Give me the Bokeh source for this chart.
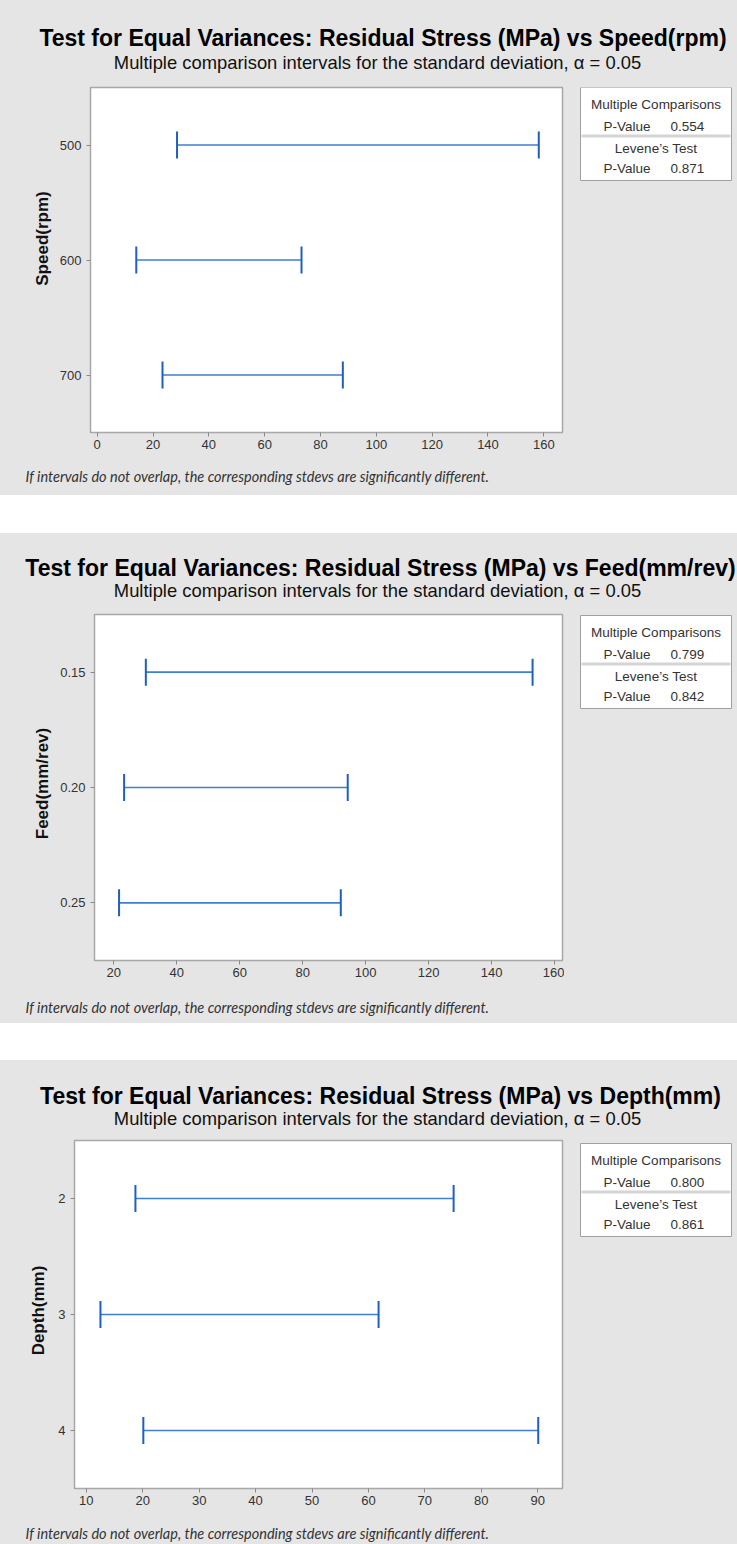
import numpy as np
from bokeh.plotting import figure
from bokeh.models import Range1d, FactorRange, FixedTicker, ColumnDataSource, Spacer
from bokeh.layouts import row
from bokeh.core.properties import value
from bokeh.embed import file_html
from bokeh.resources import INLINE

# ---------------- data ----------------
speed_levels = ["500", "600", "700"]
speed_lower = [28.6, 14.0, 23.4]
speed_upper = [158.2, 73.2, 88.0]
speed_ticks = [0, 20, 40, 60, 80, 100, 120, 140, 160]
speed_mc_p = "0.554"
speed_lev_p = "0.871"

feed_levels = ["0.15", "0.20", "0.25"]
feed_lower = [30.2, 23.3, 21.7]
feed_upper = [153.0, 94.3, 92.1]
feed_ticks = [20, 40, 60, 80, 100, 120, 140, 160]
feed_mc_p = "0.799"
feed_lev_p = "0.842"

depth_levels = ["2", "3", "4"]
depth_lower = [18.7, 12.5, 20.1]
depth_upper = [75.1, 61.8, 90.1]
depth_ticks = [10, 20, 30, 40, 50, 60, 70, 80, 90]
depth_mc_p = "0.800"
depth_lev_p = "0.861"

response = "Residual Stress (MPa)"
subtitle = "Multiple comparison intervals for the standard deviation, \u03b1 = 0.05"
footnote = "If intervals do not overlap, the corresponding stdevs are significantly different."

GRAY = "#e5e5e5"
LINE = "#3f7fcf"
CAP = "#1f5fbf"
TXT = "#333333"
W = 737
LAB_W = 52       # strip holding the y-axis title
MAIN_X1 = 564    # right edge of the main plot canvas (frame right edge at x = 562)
AX_H = 28        # room for the x axis under the frame
BG = {"background-color": GRAY}


def blank(width, height, top=0, bottom=0):
    f = figure(width=width, height=height, x_range=Range1d(0, width),
               y_range=Range1d(height - top - bottom, 0),
               x_axis_type=None, y_axis_type=None,
               output_backend="svg", toolbar_location=None, tools="",
               min_border_left=0, min_border_right=0,
               min_border_top=top, min_border_bottom=bottom,
               border_fill_color=GRAY, background_fill_color=GRAY,
               outline_line_color=None, styles=BG)
    f.xgrid.visible = False
    f.ygrid.visible = False
    return f


def txt(f, x, y, text, size, align="center", style="normal", font="Liberation Sans",
        color="#000000", angle=0.0):
    f.text(x=[x], y=[y], text=[text], text_align=align, text_baseline="middle",
           text_font=value(font), text_font_size=value(size), text_font_style=value(style),
           text_color=color, angle=angle)


def panel(var, levels, lower, upper, ticks, xr, mc_p, lev_p,
          head_h, L, FH, foot_h, title_xy, sub_y, leg_off, foot_y, lab_xy):
    # ---- header: title and subtitle
    head = blank(W, head_h)
    txt(head, title_xy[0], title_xy[1], "Test for Equal Variances: %s vs %s" % (response, var),
        "23px", style="bold", color="#000000")
    txt(head, 377, sub_y, subtitle, "18.4px", color="#111111")

    body_h = 2 + FH + AX_H

    # ---- y-axis title strip
    lab = blank(LAB_W, body_h, top=2, bottom=AX_H)
    txt(lab, lab_xy[0], lab_xy[1], var, "17px", style="bold", color="#111111", angle=np.pi / 2)

    # ---- main plot
    p = figure(width=MAIN_X1 - LAB_W, height=body_h, x_range=Range1d(*xr),
               y_range=FactorRange(factors=levels[::-1]),
               output_backend="svg", toolbar_location=None, tools="",
               min_border_left=L - LAB_W, min_border_right=MAIN_X1 - 562,
               min_border_top=2, min_border_bottom=AX_H,
               border_fill_color=GRAY, background_fill_color="white",
               outline_line_color="#a8a8a8", outline_line_width=1.5, styles=BG)
    p.xgrid.visible = False
    p.ygrid.visible = False
    src = ColumnDataSource(dict(lv=levels, lo=lower, hi=upper))
    p.segment(x0="lo", y0="lv", x1="hi", y1="lv", source=src, line_color=LINE, line_width=1.6)
    p.scatter(x="lo", y="lv", source=src, marker="dash", angle=np.pi / 2, size=27,
              line_color=CAP, line_width=2)
    p.scatter(x="hi", y="lv", source=src, marker="dash", angle=np.pi / 2, size=27,
              line_color=CAP, line_width=2)
    for ax in (p.xaxis[0], p.yaxis[0]):
        ax.axis_line_color = None
        ax.major_tick_line_color = "#888888"
        ax.major_tick_out = 4
        ax.major_tick_in = 0
        ax.minor_tick_line_color = None
        ax.major_label_text_font = "Liberation Sans"
        ax.major_label_text_font_size = "13px"
        ax.major_label_text_color = TXT
    p.xaxis.ticker = FixedTicker(ticks=ticks)
    p.xaxis.major_label_standoff = 3
    p.yaxis.major_label_standoff = 5

    # ---- side: p-value box (local x = page x - 564, local y = px below frame top)
    side = blank(W - MAIN_X1, body_h, top=2, bottom=AX_H)
    o = leg_off
    side.quad(left=[16], right=[167], top=[o], bottom=[o + 93],
              fill_color="white", line_color="#a0a0a0", line_width=1)
    side.quad(left=[17], right=[166], top=[o + 47], bottom=[o + 50],
              fill_color="#d4d4d4", line_color=None)
    txt(side, 91.5, o + 17, "Multiple Comparisons", "13.5px", color=TXT)
    txt(side, 39, o + 39, "P-Value", "13.5px", align="left", color=TXT)
    txt(side, 106, o + 39, mc_p, "13.5px", align="left", color=TXT)
    txt(side, 91.5, o + 61, "Levene\u2019s Test", "13.5px", color=TXT)
    txt(side, 39, o + 81, "P-Value", "13.5px", align="left", color=TXT)
    txt(side, 106, o + 81, lev_p, "13.5px", align="left", color=TXT)

    # ---- footer: note
    foot = blank(W, foot_h)
    txt(foot, 25, foot_y, footnote, "14.5px", align="left", style="italic", font="Lato", color="#333333")

    return [head, row(lab, p, side, styles=BG), foot]


roots = []
roots += panel("Speed(rpm)", speed_levels, speed_lower, speed_upper, speed_ticks, (-2.4, 166.7),
               speed_mc_p, speed_lev_p, 85, 90, 345, 35, (382.5, 37), 62, 0, 16, (42, 151))
roots.append(Spacer(width=W, height=38))
roots += panel("Feed(mm/rev)", feed_levels, feed_lower, feed_upper, feed_ticks, (13.9, 162.5),
               feed_mc_p, feed_lev_p, 79, 94, 346, 35, (380, 34), 57, 1, 19, (42, 169))
roots.append(Spacer(width=W, height=37))
roots += panel("Depth(mm)", depth_levels, depth_lower, depth_upper, depth_ticks, (7.9, 94.4),
               depth_mc_p, depth_lev_p, 78, 74, 348, 28, (380, 35), 58, 3, 17, (38, 170))

open("out.html", "w", encoding="utf-8").write(file_html(roots, INLINE))
